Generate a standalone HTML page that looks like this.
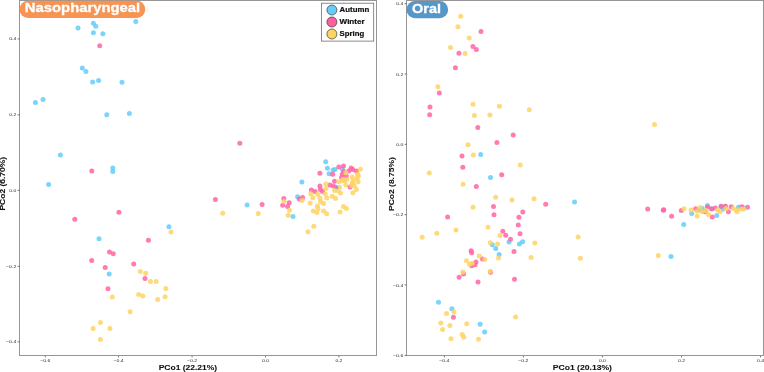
<!DOCTYPE html>
<html><head><meta charset="utf-8"><title>PCoA</title>
<style>
html,body{margin:0;padding:0;background:#fff;width:764px;height:372px;overflow:hidden}
svg{display:block;will-change:transform}
</style></head><body>
<svg width="764" height="372" viewBox="0 0 764 372"><defs><filter id="soft" x="0" y="0" width="764" height="372" filterUnits="userSpaceOnUse"><feConvolveMatrix order="3" kernelMatrix="1 2 1 2 4 2 1 2 1" divisor="16" edgeMode="duplicate"/></filter></defs><rect width="764" height="372" fill="#fff"/><g fill="#64CDFA" fill-opacity="0.85"><circle cx="78.0" cy="27.9" r="2.5"/><circle cx="93.4" cy="23.2" r="2.5"/><circle cx="95.8" cy="26.2" r="2.5"/><circle cx="135.8" cy="21.5" r="2.5"/><circle cx="93.4" cy="32.8" r="2.5"/><circle cx="102.9" cy="33.7" r="2.5"/><circle cx="82.3" cy="68.1" r="2.5"/><circle cx="85.9" cy="71.6" r="2.5"/><circle cx="92.6" cy="81.9" r="2.5"/><circle cx="98.6" cy="80.6" r="2.5"/><circle cx="122.0" cy="82.3" r="2.5"/><circle cx="35.4" cy="102.5" r="2.5"/><circle cx="43.0" cy="99.4" r="2.5"/><circle cx="106.8" cy="114.7" r="2.5"/><circle cx="129.4" cy="113.6" r="2.5"/><circle cx="60.4" cy="155.0" r="2.5"/><circle cx="48.6" cy="184.5" r="2.5"/><circle cx="112.8" cy="168.1" r="2.5"/><circle cx="112.8" cy="171.5" r="2.5"/><circle cx="99.0" cy="238.7" r="2.5"/><circle cx="109.2" cy="273.9" r="2.5"/><circle cx="168.9" cy="226.7" r="2.5"/><circle cx="247.1" cy="204.9" r="2.5"/><circle cx="293.0" cy="216.4" r="2.5"/><circle cx="297.6" cy="196.8" r="2.5"/><circle cx="301.9" cy="182.0" r="2.5"/><circle cx="325.7" cy="161.7" r="2.5"/><circle cx="327.4" cy="168.3" r="2.5"/><circle cx="333.1" cy="170.1" r="2.5"/><circle cx="334.9" cy="169.4" r="2.5"/><circle cx="329.1" cy="173.8" r="2.5"/><circle cx="342.4" cy="169.1" r="2.5"/><circle cx="336.3" cy="187.3" r="2.5"/></g><g fill="#FF64A4" fill-opacity="0.85"><circle cx="99.7" cy="45.8" r="2.5"/><circle cx="91.8" cy="171.0" r="2.5"/><circle cx="74.8" cy="219.3" r="2.5"/><circle cx="91.7" cy="260.5" r="2.5"/><circle cx="118.9" cy="212.2" r="2.5"/><circle cx="148.4" cy="240.2" r="2.5"/><circle cx="109.5" cy="252.0" r="2.5"/><circle cx="113.3" cy="253.7" r="2.5"/><circle cx="105.2" cy="267.5" r="2.5"/><circle cx="133.7" cy="264.0" r="2.5"/><circle cx="145.0" cy="278.4" r="2.5"/><circle cx="108.0" cy="288.8" r="2.5"/><circle cx="215.4" cy="199.4" r="2.5"/><circle cx="239.8" cy="143.3" r="2.5"/><circle cx="262.1" cy="204.5" r="2.5"/><circle cx="283.8" cy="198.4" r="2.5"/><circle cx="289.2" cy="202.8" r="2.5"/><circle cx="282.7" cy="205.2" r="2.5"/><circle cx="287.6" cy="206.5" r="2.5"/><circle cx="299.2" cy="199.0" r="2.5"/><circle cx="302.6" cy="197.5" r="2.5"/><circle cx="319.9" cy="173.2" r="2.5"/><circle cx="332.7" cy="174.3" r="2.5"/><circle cx="338.8" cy="167.1" r="2.5"/><circle cx="343.5" cy="166.1" r="2.5"/><circle cx="351.1" cy="168.1" r="2.5"/><circle cx="348.7" cy="171.1" r="2.5"/><circle cx="356.3" cy="171.0" r="2.5"/><circle cx="342.3" cy="174.3" r="2.5"/><circle cx="346.3" cy="175.9" r="2.5"/><circle cx="334.5" cy="181.3" r="2.5"/><circle cx="329.9" cy="185.1" r="2.5"/><circle cx="333.4" cy="186.0" r="2.5"/><circle cx="319.9" cy="186.1" r="2.5"/><circle cx="320.4" cy="189.4" r="2.5"/><circle cx="322.5" cy="191.6" r="2.5"/><circle cx="311.4" cy="190.0" r="2.5"/><circle cx="315.0" cy="191.4" r="2.5"/><circle cx="350.0" cy="187.1" r="2.5"/><circle cx="341.5" cy="177.5" r="2.5"/><circle cx="352.7" cy="169.4" r="2.5"/><circle cx="343.6" cy="171.4" r="2.5"/></g><g fill="#FDD464" fill-opacity="0.85"><circle cx="93.1" cy="328.5" r="2.5"/><circle cx="100.4" cy="322.5" r="2.5"/><circle cx="100.4" cy="339.4" r="2.5"/><circle cx="109.9" cy="328.5" r="2.5"/><circle cx="112.3" cy="296.9" r="2.5"/><circle cx="130.1" cy="311.7" r="2.5"/><circle cx="138.7" cy="294.5" r="2.5"/><circle cx="142.9" cy="296.0" r="2.5"/><circle cx="140.3" cy="271.6" r="2.5"/><circle cx="145.7" cy="273.3" r="2.5"/><circle cx="150.4" cy="281.5" r="2.5"/><circle cx="156.1" cy="281.5" r="2.5"/><circle cx="157.7" cy="299.6" r="2.5"/><circle cx="165.0" cy="296.7" r="2.5"/><circle cx="165.8" cy="288.6" r="2.5"/><circle cx="171.0" cy="232.0" r="2.5"/><circle cx="222.7" cy="213.3" r="2.5"/><circle cx="258.2" cy="213.5" r="2.5"/><circle cx="284.0" cy="201.5" r="2.5"/><circle cx="289.5" cy="210.3" r="2.5"/><circle cx="288.2" cy="215.3" r="2.5"/><circle cx="302.1" cy="200.5" r="2.5"/><circle cx="307.9" cy="231.7" r="2.5"/><circle cx="313.8" cy="226.3" r="2.5"/><circle cx="310.2" cy="203.0" r="2.5"/><circle cx="312.8" cy="197.7" r="2.5"/><circle cx="310.8" cy="193.7" r="2.5"/><circle cx="317.7" cy="194.2" r="2.5"/><circle cx="320.0" cy="198.0" r="2.5"/><circle cx="320.5" cy="201.5" r="2.5"/><circle cx="323.6" cy="203.4" r="2.5"/><circle cx="317.4" cy="206.0" r="2.5"/><circle cx="318.0" cy="208.8" r="2.5"/><circle cx="313.3" cy="210.9" r="2.5"/><circle cx="316.8" cy="212.6" r="2.5"/><circle cx="323.5" cy="210.9" r="2.5"/><circle cx="326.7" cy="213.8" r="2.5"/><circle cx="325.3" cy="193.9" r="2.5"/><circle cx="326.8" cy="198.1" r="2.5"/><circle cx="332.2" cy="196.2" r="2.5"/><circle cx="335.5" cy="198.5" r="2.5"/><circle cx="325.8" cy="183.9" r="2.5"/><circle cx="326.1" cy="188.6" r="2.5"/><circle cx="334.6" cy="190.6" r="2.5"/><circle cx="338.0" cy="190.8" r="2.5"/><circle cx="339.5" cy="187.2" r="2.5"/><circle cx="340.5" cy="192.9" r="2.5"/><circle cx="338.7" cy="181.8" r="2.5"/><circle cx="342.8" cy="180.4" r="2.5"/><circle cx="344.7" cy="180.8" r="2.5"/><circle cx="345.8" cy="185.1" r="2.5"/><circle cx="345.8" cy="172.7" r="2.5"/><circle cx="352.2" cy="177.0" r="2.5"/><circle cx="352.2" cy="182.9" r="2.5"/><circle cx="351.7" cy="185.6" r="2.5"/><circle cx="354.4" cy="186.1" r="2.5"/><circle cx="356.4" cy="189.5" r="2.5"/><circle cx="352.9" cy="192.7" r="2.5"/><circle cx="357.6" cy="174.3" r="2.5"/><circle cx="357.0" cy="178.6" r="2.5"/><circle cx="358.1" cy="181.8" r="2.5"/><circle cx="360.3" cy="169.3" r="2.5"/><circle cx="358.4" cy="176.1" r="2.5"/><circle cx="353.3" cy="180.2" r="2.5"/><circle cx="353.0" cy="183.5" r="2.5"/><circle cx="343.0" cy="179.6" r="2.5"/><circle cx="347.0" cy="179.6" r="2.5"/><circle cx="340.0" cy="212.0" r="2.5"/><circle cx="343.5" cy="206.6" r="2.5"/><circle cx="346.4" cy="208.6" r="2.5"/></g><g fill="#64CDFA" fill-opacity="0.85"><circle cx="480.7" cy="154.5" r="2.5"/><circle cx="490.5" cy="177.5" r="2.5"/><circle cx="509.0" cy="241.9" r="2.5"/><circle cx="522.6" cy="241.7" r="2.5"/><circle cx="519.4" cy="244.0" r="2.5"/><circle cx="492.3" cy="244.7" r="2.5"/><circle cx="495.7" cy="248.5" r="2.5"/><circle cx="499.1" cy="254.4" r="2.5"/><circle cx="438.5" cy="302.3" r="2.5"/><circle cx="451.9" cy="308.7" r="2.5"/><circle cx="480.1" cy="324.2" r="2.5"/><circle cx="484.6" cy="331.9" r="2.5"/><circle cx="574.5" cy="202.0" r="2.5"/><circle cx="671.0" cy="256.4" r="2.5"/><circle cx="683.7" cy="224.4" r="2.5"/><circle cx="691.7" cy="213.5" r="2.5"/><circle cx="702.3" cy="208.4" r="2.5"/><circle cx="707.5" cy="205.6" r="2.5"/><circle cx="711.7" cy="209.0" r="2.5"/><circle cx="721.1" cy="206.6" r="2.5"/><circle cx="725.4" cy="206.6" r="2.5"/><circle cx="716.8" cy="215.6" r="2.5"/><circle cx="722.9" cy="209.3" r="2.5"/><circle cx="738.5" cy="207.2" r="2.5"/><circle cx="743.2" cy="207.7" r="2.5"/><circle cx="698.9" cy="210.3" r="2.5"/></g><g fill="#FF64A4" fill-opacity="0.85"><circle cx="481.0" cy="31.4" r="2.5"/><circle cx="472.9" cy="46.4" r="2.5"/><circle cx="476.3" cy="49.6" r="2.5"/><circle cx="458.9" cy="53.3" r="2.5"/><circle cx="455.4" cy="67.7" r="2.5"/><circle cx="439.3" cy="93.0" r="2.5"/><circle cx="430.0" cy="106.9" r="2.5"/><circle cx="429.7" cy="114.8" r="2.5"/><circle cx="477.8" cy="127.5" r="2.5"/><circle cx="513.2" cy="135.1" r="2.5"/><circle cx="496.9" cy="142.6" r="2.5"/><circle cx="462.0" cy="156.0" r="2.5"/><circle cx="462.8" cy="167.2" r="2.5"/><circle cx="476.3" cy="186.6" r="2.5"/><circle cx="501.7" cy="174.7" r="2.5"/><circle cx="545.7" cy="204.2" r="2.5"/><circle cx="447.6" cy="216.9" r="2.5"/><circle cx="493.5" cy="206.6" r="2.5"/><circle cx="522.8" cy="212.0" r="2.5"/><circle cx="494.0" cy="214.8" r="2.5"/><circle cx="518.9" cy="217.2" r="2.5"/><circle cx="518.3" cy="225.1" r="2.5"/><circle cx="502.8" cy="231.3" r="2.5"/><circle cx="520.0" cy="233.7" r="2.5"/><circle cx="505.8" cy="235.2" r="2.5"/><circle cx="510.5" cy="239.3" r="2.5"/><circle cx="514.0" cy="251.6" r="2.5"/><circle cx="471.1" cy="250.8" r="2.5"/><circle cx="471.7" cy="252.7" r="2.5"/><circle cx="482.5" cy="258.9" r="2.5"/><circle cx="476.0" cy="262.0" r="2.5"/><circle cx="471.7" cy="265.8" r="2.5"/><circle cx="474.9" cy="264.7" r="2.5"/><circle cx="463.5" cy="274.0" r="2.5"/><circle cx="459.1" cy="277.2" r="2.5"/><circle cx="490.6" cy="272.2" r="2.5"/><circle cx="478.0" cy="282.0" r="2.5"/><circle cx="514.5" cy="279.2" r="2.5"/><circle cx="453.4" cy="317.3" r="2.5"/><circle cx="647.7" cy="209.0" r="2.5"/><circle cx="663.8" cy="209.8" r="2.5"/><circle cx="663.3" cy="210.3" r="2.5"/><circle cx="671.6" cy="216.3" r="2.5"/><circle cx="681.3" cy="210.6" r="2.5"/><circle cx="695.6" cy="208.7" r="2.5"/><circle cx="704.9" cy="211.7" r="2.5"/><circle cx="707.5" cy="207.1" r="2.5"/><circle cx="711.7" cy="208.8" r="2.5"/><circle cx="715.3" cy="207.9" r="2.5"/><circle cx="712.3" cy="217.0" r="2.5"/><circle cx="721.1" cy="206.3" r="2.5"/><circle cx="725.4" cy="206.3" r="2.5"/><circle cx="728.4" cy="211.8" r="2.5"/><circle cx="731.2" cy="206.8" r="2.5"/><circle cx="741.8" cy="206.8" r="2.5"/><circle cx="747.5" cy="207.2" r="2.5"/></g><g fill="#FDD464" fill-opacity="0.85"><circle cx="460.7" cy="16.3" r="2.5"/><circle cx="457.9" cy="26.7" r="2.5"/><circle cx="469.2" cy="37.9" r="2.5"/><circle cx="450.5" cy="47.4" r="2.5"/><circle cx="465.1" cy="53.4" r="2.5"/><circle cx="437.9" cy="86.7" r="2.5"/><circle cx="473.0" cy="104.3" r="2.5"/><circle cx="474.4" cy="115.6" r="2.5"/><circle cx="489.9" cy="115.1" r="2.5"/><circle cx="499.4" cy="106.2" r="2.5"/><circle cx="529.3" cy="109.7" r="2.5"/><circle cx="468.0" cy="144.8" r="2.5"/><circle cx="473.4" cy="154.9" r="2.5"/><circle cx="429.3" cy="173.0" r="2.5"/><circle cx="463.1" cy="184.2" r="2.5"/><circle cx="473.0" cy="207.2" r="2.5"/><circle cx="520.2" cy="165.0" r="2.5"/><circle cx="495.6" cy="197.3" r="2.5"/><circle cx="512.0" cy="200.0" r="2.5"/><circle cx="534.0" cy="198.7" r="2.5"/><circle cx="456.0" cy="230.1" r="2.5"/><circle cx="436.8" cy="233.3" r="2.5"/><circle cx="422.2" cy="237.2" r="2.5"/><circle cx="479.2" cy="256.1" r="2.5"/><circle cx="484.8" cy="259.5" r="2.5"/><circle cx="466.5" cy="260.8" r="2.5"/><circle cx="469.5" cy="264.2" r="2.5"/><circle cx="472.2" cy="263.2" r="2.5"/><circle cx="462.9" cy="272.1" r="2.5"/><circle cx="490.3" cy="271.2" r="2.5"/><circle cx="490.3" cy="242.7" r="2.5"/><circle cx="488.0" cy="227.3" r="2.5"/><circle cx="500.0" cy="235.6" r="2.5"/><circle cx="534.8" cy="243.0" r="2.5"/><circle cx="497.6" cy="244.0" r="2.5"/><circle cx="498.5" cy="258.0" r="2.5"/><circle cx="531.0" cy="257.4" r="2.5"/><circle cx="454.0" cy="311.9" r="2.5"/><circle cx="446.5" cy="313.4" r="2.5"/><circle cx="440.9" cy="322.9" r="2.5"/><circle cx="449.9" cy="325.5" r="2.5"/><circle cx="466.7" cy="323.8" r="2.5"/><circle cx="442.6" cy="329.6" r="2.5"/><circle cx="462.2" cy="334.5" r="2.5"/><circle cx="463.7" cy="337.3" r="2.5"/><circle cx="451.0" cy="338.8" r="2.5"/><circle cx="478.5" cy="339.2" r="2.5"/><circle cx="515.6" cy="316.9" r="2.5"/><circle cx="578.1" cy="237.1" r="2.5"/><circle cx="580.3" cy="258.2" r="2.5"/><circle cx="654.5" cy="124.4" r="2.5"/><circle cx="658.3" cy="255.4" r="2.5"/><circle cx="684.0" cy="208.8" r="2.5"/><circle cx="691.0" cy="209.9" r="2.5"/><circle cx="696.9" cy="211.1" r="2.5"/><circle cx="697.1" cy="216.0" r="2.5"/><circle cx="700.1" cy="207.4" r="2.5"/><circle cx="702.3" cy="211.7" r="2.5"/><circle cx="706.0" cy="210.6" r="2.5"/><circle cx="708.5" cy="214.6" r="2.5"/><circle cx="717.5" cy="210.1" r="2.5"/><circle cx="720.1" cy="211.8" r="2.5"/><circle cx="726.1" cy="208.6" r="2.5"/><circle cx="733.3" cy="208.6" r="2.5"/><circle cx="736.6" cy="210.1" r="2.5"/><circle cx="737.1" cy="211.7" r="2.5"/><circle cx="741.3" cy="209.1" r="2.5"/><circle cx="743.7" cy="209.1" r="2.5"/></g><circle cx="336.7" cy="187.4" r="1.6" fill="#A888D8" fill-opacity="0.85"/><g fill="#969696"><rect x="19" y="0" width="1" height="356"/><rect x="376" y="0" width="1" height="356"/><rect x="19" y="0" width="358" height="1"/><rect x="19" y="355" width="358" height="1"/></g><g fill="#969696"><rect x="406" y="0" width="1" height="356"/><rect x="763" y="0" width="1" height="356"/><rect x="406" y="0" width="358" height="1"/><rect x="406" y="355" width="358" height="1"/></g><g font-family='"Liberation Sans", sans-serif' font-size="4.2" fill="#2a2a2a"><line x1="17.6" x2="19.5" y1="38.9" y2="38.9" stroke="#3a3a3a" stroke-width="0.7"/><text x="16.3" y="40.4" text-anchor="end" textLength="7.0" lengthAdjust="spacingAndGlyphs">0.4</text><line x1="17.6" x2="19.5" y1="114.8" y2="114.8" stroke="#3a3a3a" stroke-width="0.7"/><text x="16.3" y="116.3" text-anchor="end" textLength="7.0" lengthAdjust="spacingAndGlyphs">0.2</text><line x1="17.6" x2="19.5" y1="190.4" y2="190.4" stroke="#3a3a3a" stroke-width="0.7"/><text x="16.3" y="191.9" text-anchor="end" textLength="7.0" lengthAdjust="spacingAndGlyphs">0.0</text><line x1="17.6" x2="19.5" y1="266.3" y2="266.3" stroke="#3a3a3a" stroke-width="0.7"/><text x="16.3" y="267.8" text-anchor="end" textLength="10.2" lengthAdjust="spacingAndGlyphs">−0.2</text><line x1="17.6" x2="19.5" y1="341.8" y2="341.8" stroke="#3a3a3a" stroke-width="0.7"/><text x="16.3" y="343.3" text-anchor="end" textLength="10.2" lengthAdjust="spacingAndGlyphs">−0.4</text><line x1="45.3" x2="45.3" y1="356" y2="357.4" stroke="#3a3a3a" stroke-width="0.7"/><text x="45.3" y="361.9" text-anchor="middle" textLength="10.2" lengthAdjust="spacingAndGlyphs">−0.6</text><line x1="118.6" x2="118.6" y1="356" y2="357.4" stroke="#3a3a3a" stroke-width="0.7"/><text x="118.6" y="361.9" text-anchor="middle" textLength="10.2" lengthAdjust="spacingAndGlyphs">−0.4</text><line x1="192.1" x2="192.1" y1="356" y2="357.4" stroke="#3a3a3a" stroke-width="0.7"/><text x="192.1" y="361.9" text-anchor="middle" textLength="10.2" lengthAdjust="spacingAndGlyphs">−0.2</text><line x1="265.5" x2="265.5" y1="356" y2="357.4" stroke="#3a3a3a" stroke-width="0.7"/><text x="265.5" y="361.9" text-anchor="middle" textLength="7.0" lengthAdjust="spacingAndGlyphs">0.0</text><line x1="338.9" x2="338.9" y1="356" y2="357.4" stroke="#3a3a3a" stroke-width="0.7"/><text x="338.9" y="361.9" text-anchor="middle" textLength="7.0" lengthAdjust="spacingAndGlyphs">0.2</text><line x1="404.6" x2="406.5" y1="3.6" y2="3.6" stroke="#3a3a3a" stroke-width="0.7"/><text x="403.3" y="5.1" text-anchor="end" textLength="7.0" lengthAdjust="spacingAndGlyphs">0.4</text><line x1="404.6" x2="406.5" y1="74.0" y2="74.0" stroke="#3a3a3a" stroke-width="0.7"/><text x="403.3" y="75.5" text-anchor="end" textLength="7.0" lengthAdjust="spacingAndGlyphs">0.2</text><line x1="404.6" x2="406.5" y1="144.3" y2="144.3" stroke="#3a3a3a" stroke-width="0.7"/><text x="403.3" y="145.8" text-anchor="end" textLength="7.0" lengthAdjust="spacingAndGlyphs">0.0</text><line x1="404.6" x2="406.5" y1="214.7" y2="214.7" stroke="#3a3a3a" stroke-width="0.7"/><text x="403.3" y="216.2" text-anchor="end" textLength="10.2" lengthAdjust="spacingAndGlyphs">−0.2</text><line x1="404.6" x2="406.5" y1="285.0" y2="285.0" stroke="#3a3a3a" stroke-width="0.7"/><text x="403.3" y="286.5" text-anchor="end" textLength="10.2" lengthAdjust="spacingAndGlyphs">−0.4</text><line x1="404.6" x2="406.5" y1="355.4" y2="355.4" stroke="#3a3a3a" stroke-width="0.7"/><text x="403.3" y="356.9" text-anchor="end" textLength="10.2" lengthAdjust="spacingAndGlyphs">−0.6</text><line x1="444.4" x2="444.4" y1="356" y2="357.4" stroke="#3a3a3a" stroke-width="0.7"/><text x="444.4" y="361.9" text-anchor="middle" textLength="10.2" lengthAdjust="spacingAndGlyphs">−0.4</text><line x1="523.4" x2="523.4" y1="356" y2="357.4" stroke="#3a3a3a" stroke-width="0.7"/><text x="523.4" y="361.9" text-anchor="middle" textLength="10.2" lengthAdjust="spacingAndGlyphs">−0.2</text><line x1="602.4" x2="602.4" y1="356" y2="357.4" stroke="#3a3a3a" stroke-width="0.7"/><text x="602.4" y="361.9" text-anchor="middle" textLength="7.0" lengthAdjust="spacingAndGlyphs">0.0</text><line x1="681.5" x2="681.5" y1="356" y2="357.4" stroke="#3a3a3a" stroke-width="0.7"/><text x="681.5" y="361.9" text-anchor="middle" textLength="7.0" lengthAdjust="spacingAndGlyphs">0.2</text><line x1="760.5" x2="760.5" y1="356" y2="357.4" stroke="#3a3a3a" stroke-width="0.7"/><text x="760.5" y="361.9" text-anchor="middle" textLength="7.0" lengthAdjust="spacingAndGlyphs">0.4</text></g><g font-family='"Liberation Sans", sans-serif' font-size="7" font-weight="bold" fill="#111" stroke="#111" stroke-width="0.08"><text x="158.7" y="370.3" textLength="58.4" lengthAdjust="spacingAndGlyphs">PCo1 (22.21%)</text><text x="552.7" y="370.3" textLength="59.3" lengthAdjust="spacingAndGlyphs">PCo1 (20.13%)</text><text transform="translate(5.2,210.6) rotate(-90)" textLength="53.8" lengthAdjust="spacingAndGlyphs">PCo2 (6.70%)</text><text transform="translate(393.8,211.0) rotate(-90)" textLength="53.8" lengthAdjust="spacingAndGlyphs">PCo2 (8.75%)</text></g><rect x="19.6" y="0.7" width="125.6" height="17.2" rx="8.4" ry="8.4" fill="#F79452"/><text x="24.8" y="12.0" font-family='"Liberation Sans", sans-serif' font-size="12.6" font-weight="bold" fill="#fff" stroke="#fff" stroke-width="0.3" textLength="115.4" lengthAdjust="spacingAndGlyphs">Nasopharyngeal</text><rect x="406.5" y="0.9" width="41.6" height="17.4" rx="8.5" ry="8.5" fill="#5697CA"/><text x="412.1" y="13.2" font-family='"Liberation Sans", sans-serif' font-size="12.6" font-weight="bold" fill="#fff" stroke="#fff" stroke-width="0.3" textLength="28.9" lengthAdjust="spacingAndGlyphs">Oral</text><rect x="321.4" y="3.2" width="52.3" height="37.9" fill="#fff" fill-opacity="0.85" stroke="#6e6e6e" stroke-width="0.8"/><g stroke="#3a3a3a" stroke-width="0.7"><circle cx="331.9" cy="10.0" r="5.0" fill="#64CDFA" /><circle cx="331.9" cy="22.0" r="5.0" fill="#FF5FA0" /><circle cx="331.9" cy="34.0" r="5.0" fill="#FDD464" /></g><g font-family='"Liberation Sans", sans-serif' font-size="7" font-weight="bold" fill="#111" stroke="#111" stroke-width="0.2"><text x="339.6" y="12.4" textLength="29.6" lengthAdjust="spacingAndGlyphs">Autumn</text><text x="339.6" y="24.4" textLength="25.0" lengthAdjust="spacingAndGlyphs">Winter</text><text x="339.6" y="36.4" textLength="24.6" lengthAdjust="spacingAndGlyphs">Spring</text></g></svg>
</body></html>
